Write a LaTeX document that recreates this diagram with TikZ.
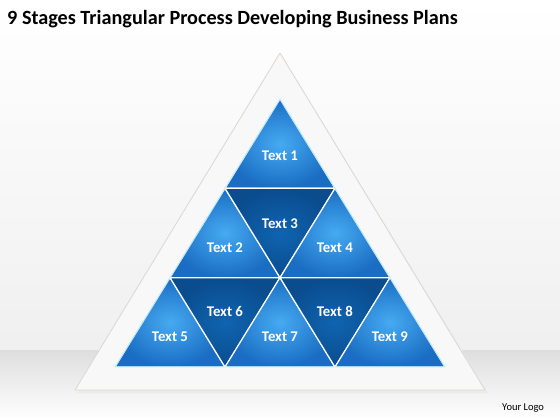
\documentclass[tikz,border=0pt]{standalone}
\usepackage{fontspec}
\setmainfont{Carlito}
\usetikzlibrary{calc}
\definecolor{upin}{HTML}{46AAF2}
\definecolor{upout}{HTML}{1A6DC2}
\definecolor{dnin}{HTML}{0F64B0}
\definecolor{dnout}{HTML}{0A4C8E}
\definecolor{outerfill}{HTML}{F8F8F8}
\definecolor{outerdraw}{HTML}{DDD6D0}
\tikzset{
  upt/.style={draw=white,line width=1.2pt,line join=round,inner color=upin,outer color=upout},
  dnt/.style={draw=white,line width=1.2pt,line join=round,inner color=dnin,outer color=dnout},
  lbl/.style={text=white,font=\fontsize{14.8}{16}\selectfont\bfseries,inner sep=0pt},
}
\begin{document}
\begin{tikzpicture}[x=1pt,y=-1pt]
\useasboundingbox (0,0) rectangle (560,420);
% background
\shade[top color=white,bottom color=black!6] (0,0) rectangle (560,350);
\shade[top color=black!13,bottom color=white] (0,350) rectangle (560,420);
% title and logo
\node[anchor=base west,inner sep=0pt,font=\fontsize{20.2}{24}\selectfont\bfseries] (title) at (7,25) {9 Stages Triangular Process Developing Business Plans};
\node[anchor=base west,inner sep=0pt,font=\fontsize{10.5}{12}\selectfont] (logo) at (502,410) {Your Logo};
% outer triangle
\fill[black!8] (282,56) -- (488,393) -- (77,393) -- cycle;
\draw[fill=outerfill,draw=outerdraw,line width=0.8pt,line join=round] (280,53) -- (485,390) -- (75,390) -- cycle;
% lattice
\foreach \k in {0,...,3}{
  \foreach \j in {0,...,\k}{
    \coordinate (p\k\j) at ({280-55*\k+110*\j},{99+89.33*\k});
  }
}
% triangles
\path[upt] (p00) -- (p10) -- (p11) -- cycle;
\path[upt] (p10) -- (p20) -- (p21) -- cycle;
\path[dnt] (p10) -- (p11) -- (p21) -- cycle;
\path[upt] (p11) -- (p21) -- (p22) -- cycle;
\path[upt] (p20) -- (p30) -- (p31) -- cycle;
\path[dnt] (p20) -- (p21) -- (p31) -- cycle;
\path[upt] (p21) -- (p31) -- (p32) -- cycle;
\path[dnt] (p21) -- (p22) -- (p32) -- cycle;
\path[upt] (p22) -- (p32) -- (p33) -- cycle;
\draw[draw=white!70!cyan,line width=0.8pt,line join=round] (p00) -- (p30) -- (p33) -- cycle;
% labels
\node[lbl] (t1) at ($0.3333*(p00)+0.3333*(p10)+0.3333*(p11)+(0,-3)$) {Text 1};
\node[lbl] (t2) at ($0.3333*(p10)+0.3333*(p20)+0.3333*(p21)$) {Text 2};
\node[lbl] (t3) at ($0.3333*(p10)+0.3333*(p11)+0.3333*(p21)+(0,6)$) {Text 3};
\node[lbl] (t4) at ($0.3333*(p11)+0.3333*(p21)+0.3333*(p22)$) {Text 4};
\node[lbl] (t5) at ($0.3333*(p20)+0.3333*(p30)+0.3333*(p31)$) {Text 5};
\node[lbl] (t6) at ($0.3333*(p20)+0.3333*(p21)+0.3333*(p31)+(0,4)$) {Text 6};
\node[lbl] (t7) at ($0.3333*(p21)+0.3333*(p31)+0.3333*(p32)$) {Text 7};
\node[lbl] (t8) at ($0.3333*(p21)+0.3333*(p22)+0.3333*(p32)+(0,4)$) {Text 8};
\node[lbl] (t9) at ($0.3333*(p22)+0.3333*(p32)+0.3333*(p33)$) {Text 9};
\end{tikzpicture}
\end{document}
